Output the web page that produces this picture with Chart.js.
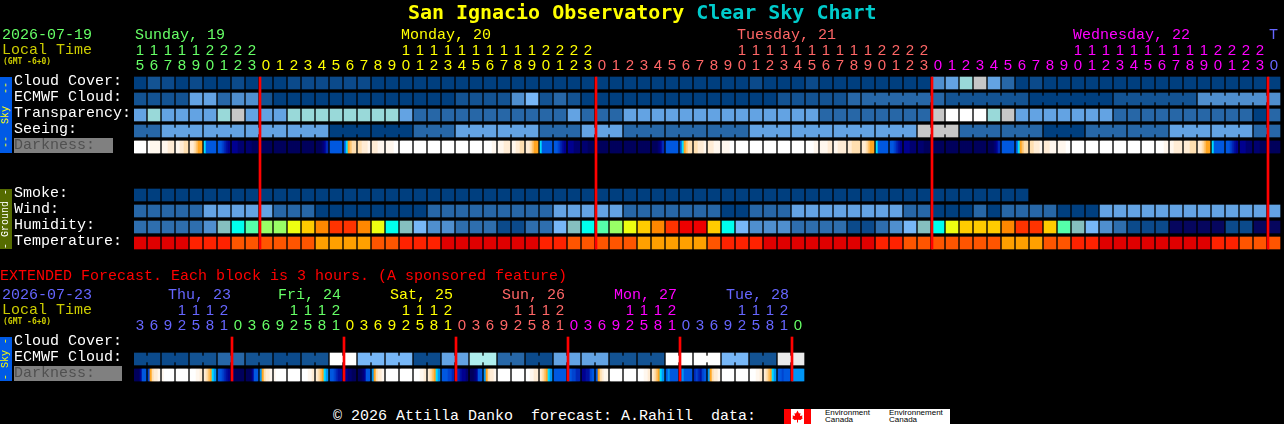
<!DOCTYPE html>
<html>
<head>
<meta charset="utf-8">
<script src="https://cdn.jsdelivr.net/npm/chart.js@4"></script>
<style>
html,body{margin:0;padding:0;background:#000;width:1284px;height:424px;overflow:hidden}
#page{position:relative;width:1284px;height:424px;overflow:hidden}
canvas{position:absolute;left:0;display:block}
.t{position:absolute;white-space:pre;font:15px/15px "Liberation Mono",monospace;color:#fff}
.box{position:absolute}
.side{position:absolute;white-space:pre;font:10px/12px "Liberation Mono",monospace;text-align:center;transform:rotate(-90deg);transform-origin:center}
</style>
</head>
<body>
<div id="page">
<div class="box" style="left:14px;top:138px;width:99px;height:15px;background:#808080"></div>
<div class="box" style="left:14px;top:366px;width:108px;height:15px;background:#808080"></div>
<canvas id="main"></canvas>
<canvas id="ext"></canvas>

<div class="t" style="left:408px;top:1px;font:bold 20px/22px 'DejaVu Sans Mono',monospace;letter-spacing:-0.03px;color:#ffff00">San Ignacio Observatory<span style="color:#00cccc"> Clear Sky Chart</span></div>

<div class="t" style="left:2px;top:28px;color:#66ff66">2026-07-19</div>
<div class="t" style="left:2px;top:43px;color:#cccc00">Local Time</div>
<div class="t" style="left:3px;top:58px;color:#cccc00;font:bold 8px/8px 'DejaVu Sans Mono',monospace">(GMT -6+0)</div>
<div class="t" style="left:135px;top:28px;color:#66ff66">Sunday, 19</div>
<div class="t" style="left:401px;top:28px;color:#ffff00">Monday, 20</div>
<div class="t" style="left:737px;top:28px;color:#ff6666">Tuesday, 21</div>
<div class="t" style="left:1073px;top:28px;color:#ff00ff">Wednesday, 22</div>
<div class="t" style="left:1269px;top:28px;color:#6666ff">T</div>

<div class="box" style="left:0;top:77px;width:12px;height:76px;background:#005ae6"></div>
<div class="side" style="left:-32px;top:109px;width:76px;height:12px;color:#ffff00">--  Sky  --</div>
<div class="box" style="left:0;top:189px;width:12px;height:60px;background:#556b00"></div>
<div class="side" style="left:-24px;top:213px;width:60px;height:12px;color:#ffffff">- Ground -</div>

<div class="t" style="left:0;top:269px;color:#ff0000">EXTENDED Forecast. Each block is 3 hours. (A sponsored feature)</div>
<div class="t" style="left:2px;top:288px;color:#6666ff">2026-07-23</div>
<div class="t" style="left:2px;top:303px;color:#cccc00">Local Time</div>
<div class="t" style="left:3px;top:318px;color:#cccc00;font:bold 8px/8px 'DejaVu Sans Mono',monospace">(GMT -6+0)</div>
<div class="t" style="left:168px;top:288px;color:#6666ff">Thu, 23</div>
<div class="t" style="left:278px;top:288px;color:#66ff66">Fri, 24</div>
<div class="t" style="left:390px;top:288px;color:#ffff00">Sat, 25</div>
<div class="t" style="left:502px;top:288px;color:#ff6666">Sun, 26</div>
<div class="t" style="left:614px;top:288px;color:#ff00ff">Mon, 27</div>
<div class="t" style="left:726px;top:288px;color:#6666ff">Tue, 28</div>

<div class="box" style="left:0;top:337px;width:12px;height:44px;background:#005ae6"></div>
<div class="side" style="left:-16px;top:353px;width:44px;height:12px;color:#ffff00">- Sky -</div>

<div class="t" style="left:333px;top:409px;color:#ffffff">© 2026 Attilla Danko  forecast: A.Rahill  data:</div>
<div class="box" style="left:784px;top:409px;width:166px;height:15px;background:#fff;overflow:hidden">
  <div class="box" style="left:0;top:0;width:7px;height:15px;background:#ff0000"></div>
  <div class="box" style="left:20px;top:0;width:7px;height:15px;background:#ff0000"></div>
  <svg class="box" style="left:7px;top:1px" width="13" height="13" viewBox="0 0 13 13"><path d="M6.5 0.5L8 3.5L9.5 3L9 6L11.5 5.5L11 7.5L12 8L9.5 10L7 9.8V12.5H6V9.8L3.5 10L1 8L2 7.5L1.5 5.5L4 6L3.5 3L5 3.5Z" fill="#ff0000"/></svg>
  <div class="t" style="left:41px;top:0;color:#000;font:8px/7px 'Liberation Sans',sans-serif">Environment
Canada</div>
  <div class="t" style="left:105px;top:0;color:#000;font:8px/7px 'Liberation Sans',sans-serif">Environnement
Canada</div>
</div>
</div>

<script>
/* ---------- colour levels ---------- */
const skyPalette = ['#003F7F','#0B4A8B','#135393','#2767A7','#3B7BBB','#4F8FCF','#63A3E3','#77B7F7','#99D9D9','#AEEEEE','#C7C7C7','#EAEAEA','#FFFFFF'];
const humidityPalette = ['#06065E','#0B4A8B','#2E6EAE','#4F8FCF','#77B7F7','#85BFBF','#00FFEE','#55FFAA','#99FF66','#EEFF11','#FFCC00','#FF8800','#FF3300','#EE0000'];
const temperaturePalette = ['#E00000','#FF2200','#FF5500','#FFA000'];
const darknessPalette = {'0':'#FFFFFF','1':'#FFF7EE','2':'#FFECD5','3':'#FFDFB0','4':'#FFC570','5':'#FFA520','6':'#00DDFF','7':'#0095F5','8':'#0058E0','9':'#0044D0','a':'#0028B8','b':'#0010A0','c':'#000090','d':'#000070','e':'#00005C','f':'#000050'};
const dayColors = ['#66FF66','#FFFF00','#FF6666','#FF00FF','#6666FF'];
const extDayColors = ['#6666FF','#66FF66','#FFFF00','#FF6666','#FF00FF','#6666FF','#66FF66'];
const redLine = '#FF0000';

/* ---------- main forecast ---------- */
const rowLabels = ['Cloud Cover:','ECMWF Cloud:','Transparency:','Seeing:','Darkness:','','','Smoke:','Wind:','Humidity:','Temperature:'];
const hours = [15,16,17,18,19,20,21,22,23,
 0,1,2,3,4,5,6,7,8,9,10,11,12,13,14,15,16,17,18,19,20,21,22,23,
 0,1,2,3,4,5,6,7,8,9,10,11,12,13,14,15,16,17,18,19,20,21,22,23,
 0,1,2,3,4,5,6,7,8,9,10,11,12,13,14,15,16,17,18,19,20,21,22,23,
 0];
const midnights = [9,33,57,81];
const cloudCover = [0,2,1,0,1,0,0,1,0,0, 0,1,1,1,1,1,1,0,0,0, 0,0,0,0,0,0,0,0,0,0, 0,0,0,0,0,0,0,0,0,0, 0,0,0,0,1,0,0,0,1,0, 0,0,0,0,0,0,0,5,6,8, 10,6,3,0,1,0,0,0,0,0, 0,0,0,0,0,0,0,0,0,0,0,0];
const ecmwfCloud = [2,2,2,2,6,6,3,5,5,2, 0,0,0,0,0,0,0,0,0,0, 0,0,0,2,2,2,2,5,7,2, 3,2,0,0,0,0,0,0,0,0, 0,0,0,0,0,0,2,2,2,2, 2,3,3,3,3,3,3,3,2,2, 2,2,2,2,0,0,0,0,0,0, 2,2,2,2,2,2,5,5,5,5,5,5];
const ecmwfGroups = [52,58,64,70,76];
const transparency = [6,8,6,6,6,6,8,10,6,6, 6,8,8,8,8,8,8,8,8,6, 3,3,3,3,3,3,3,3,3,3, 3,6,3,3,3,6,6,6,6,6, 6,6,6,6,6,6,6,6,6,3, 3,3,3,3,3,3,3,10,12,12, 12,8,10,6,6,6,6,6,6,6, 3,3,3,3,3,3,3,3,3,3,0,3];
const seeing = [3,3, 6,6,6,6,6,6,6,6,6,6,6,6, 0,0,0,0,0,0, 3,3,3, 6,6,6,6,6,6, 3,3,3, 6,6,6, 3,3,3,3,3,3,3,3,3, 6,6,6,6,6,6,6,6,6,6,6,6, 10,10,10, 3,3,3,3,3,3, 0,0,0, 3,3,3,3,3,3, 6,6,6,6,6,6, 3,3];
const seeingGroups = [0,2,5,8,11,14,17,20,23,26,29,32,35,38,41,44,47,50,53,56,59,62,65,68,71,74,77,80];
const darkness = ['000000','011111','111222','112233','223455','688888','889abc','cccddd','dddeee',
 'eeeeee','eeeeee','eeeeee','eeeeee','eeedca','888888','865433','332221','222111','111100','000000','000000','000000','000000','000000','000000',
 '000011','111222','112233','223455','688888','889abc','cccddd','dddeee',
 'eeeeee','eeeeee','eeeeee','eeeeee','eeedca','888888','865433','332221','222111','111100','000000','000000','000000','000000','000000',
 '000011','111122','112222','223333','223455','688888','889abc','cccddd','dddeee',
 'eeeeee','eeeeee','eeeeee','eeeeee','eeedca','888888','865433','332221','222111','111100','000000','000000','000000','000000','000000','000000',
 '000011','112222','222333','223455','688888','889abc','cccddd','dddeee','eeeeee'];
const smoke = [0,0,0,0,0,0,0,0,0,0, 0,0,0,0,0,0,0,0,0,0, 0,0,0,0,0,0,0,0,0,0, 0,0,0,0,0,0,0,0,0,0, 0,0,0,0,0,0,0,0,0,0, 0,0,0,0,0,0,0,0,0,0, 0,0,0,0];
const wind = [3,3,3,3,3,6,6,6,6,6, 3,3,3,0,0,0,0,0,0,0, 0,3,3,3,3,3,3,3,3,3, 6,6,6,6,6,3,3,3,3,3, 3,3,0,0,3,3,3,6,6,6, 6,6,6,6,6,3,3,0,0,0, 3,0,3,3,3,3,0,0,0,6, 6,6,6,6,6,6,6,6,6,6,6,6];
const humidity = [2,2,2,2,2,3,5,6,7,8, 8,9,10,11,12,12,11,9,6,5, 4,3,3,2,2,2,1,1,2,2, 4,5,6,7,8,9,10,11,12,13, 13,10,6,4,3,3,3,2,2,2, 2,1,1,2,3,4,5,6,9,10, 10,10,11,12,12,10,7,5,4,3, 2,1,1,1,0,0,0,0,1,1,0,0];
const temperature = [0,0,0,0,1,1,1,2,2,2, 2,2,2,3,3,3,3,2,2,1, 1,1,0,0,0,0,0,0,0,1, 1,2,2,2,2,2,3,3,3,3, 3,2,1,1,1,0,0,0,0,0, 0,0,0,1,1,2,2,2,2,2, 2,2,3,3,3,2,2,1,1,0, 0,0,0,0,0,0,0,1,1,2,2,2];

/* ---------- extended forecast ---------- */
const extRowLabels = ['Cloud Cover:','ECMWF Cloud:','Darkness:'];
const extHours = [3,6,9,12,15,18,21,0, 3,6,9,12,15,18,21,0, 3,6,9,12,15,18,21,0, 3,6,9,12,15,18,21,0, 3,6,9,12,15,18,21,0, 3,6,9,12,15,18,21,0];
const extMidnights = [7,15,23,31,39,47];
const extEcmwf = [1,1,1,1,2,2,3,3, 2,2,1,1,2,2,12,12, 7,7,7,7,1,1,6,6, 9,9,3,3,1,1,6,6, 6,6,2,2,2,2,12,12, 12,12,7,7,2,2,11,11];
const extEcmwfGroups = [0,2,4,6,8,10,12,14,16,18,20,22,24,26,28,30,32,34,36,38,40,42,44,46];
const extDarkness = ['eeec88','953221','100000','000000','000112','234567','889abc','deeeee',
 'eeec88','753221','100000','000000','000112','234567','889abb','ccddee',
 'eedc88','753221','000000','000000','000112','234567','88899a','aabccd',
 'eedc88','753221','000000','000000','001122','234567','888888','8899aa',
 'ccbb98','853211','000000','000000','000112','234567','878888','878888',
 'a9ab98','753221','000000','000000','000112','234567','889888','777777'];

/* ---------- chart construction ---------- */
const BLOCK = 12, PITCH = 14, ROW = 16, BLOCK_HEIGHT = 12;
const blockCentre = (BLOCK / 2) / PITCH;              // a block starts on its hour
const inset = ((ROW - BLOCK_HEIGHT) / 2) / ROW;
const rowBand = r => [r + inset, r + 1 - inset];
const joinBand = r => [r + inset + 3 / ROW, r + 1 - inset - 3 / ROW];

function blocks(values, row, palette) {
  return {
    data: values.map((v, i) => ({x: i + blockCentre, y: rowBand(row)})),
    backgroundColor: values.map(v => palette[v]),
    barThickness: BLOCK, grouped: false, borderWidth: 0
  };
}
function joins(values, groups, row, palette) {
  const pts = [], cols = [];
  for (let i = 0; i < values.length - 1; i++) {
    const g = groups.filter(s => s <= i).pop();
    if (g === undefined || groups.includes(i + 1)) continue;
    pts.push({x: i + (BLOCK + 1) / PITCH, y: joinBand(row)});
    cols.push(palette[values[i]]);
  }
  return {data: pts, backgroundColor: cols, barThickness: 2, grouped: false, borderWidth: 0};
}
function shaded(strings, row) {
  const pts = [], cols = [];
  strings.forEach((s, i) => [...s].forEach((c, j) => {
    pts.push({x: i + (2 * j + 1) / PITCH, y: rowBand(row)});
    cols.push(darknessPalette[c]);
  }));
  return {data: pts, backgroundColor: cols, barThickness: 2, grouped: false, borderWidth: 0};
}
function redLines(cols, rows) {
  return {
    data: cols.map(c => ({x: c, y: [inset, rows - inset]})),
    backgroundColor: redLine, barThickness: 2, grouped: false, borderWidth: 0
  };
}
function dayIndexes(hs) {
  let d = 0;
  return hs.map(h => { if (h === 0) d++; return d; });
}
function tickLabel(h) {
  const s = String(h);
  return s.length > 1 ? [s[0], s[1]] : ['', s];
}
function build(id, top, height, axisHeight, hs, cols, labels, colors, datasets, rows) {
  const canvas = document.getElementById(id);
  canvas.style.top = top + 'px';
  const days = dayIndexes(hs);
  return new Chart(canvas, {
    type: 'bar',
    data: {datasets},
    options: {
      responsive: false, animation: false, devicePixelRatio: 1,
      layout: {padding: {left: 14, right: 1284 - 134 - cols * PITCH, top: 0, bottom: height - axisHeight - rows * ROW}},
      plugins: {legend: {display: false}, tooltip: {enabled: false}, title: {display: false}},
      scales: {
        x: {
          type: 'linear', position: 'top', min: 0, max: cols, offset: false,
          grid: {display: false, drawTicks: false, offset: false}, border: {display: false},
          afterBuildTicks: s => { s.ticks = hs.map((h, i) => ({value: i + blockCentre})); },
          afterFit: s => { s.height = axisHeight; },
          ticks: {
            autoSkip: false, maxRotation: 0, minRotation: 0, padding: 2,
            font: {family: '"Liberation Sans",sans-serif', size: 15, lineHeight: 1},
            color: c => colors[days[c.index]],
            callback: (v, i) => tickLabel(hs[i])
          }
        },
        y: {
          type: 'linear', reverse: true, min: 0, max: rows,
          grid: {display: false, drawTicks: false}, border: {display: false},
          afterBuildTicks: s => { s.ticks = labels.map((l, i) => ({value: i + 0.35})); },
          afterFit: s => { s.width = 120; },
          ticks: {
            autoSkip: false, crossAlign: 'far', padding: 0,
            font: {family: '"Liberation Mono",monospace', size: 15},
            color: c => labels[c.index] === 'Darkness:' ? '#505050' : '#FFFFFF',
            callback: (v, i) => labels[i]
          }
        }
      }
    }
  });
}

const mainCanvas = document.getElementById('main');
mainCanvas.width = 1284; mainCanvas.height = 265;
build('main', 0, 265, 75, hours, 82, rowLabels, dayColors, [
  redLines(midnights, 11),
  blocks(cloudCover, 0, skyPalette),
  blocks(ecmwfCloud, 1, skyPalette),
  joins(ecmwfCloud, ecmwfGroups, 1, skyPalette),
  blocks(transparency, 2, skyPalette),
  blocks(seeing, 3, skyPalette),
  joins(seeing, seeingGroups, 3, skyPalette),
  shaded(darkness, 4),
  blocks(smoke, 7, skyPalette),
  blocks(wind, 8, skyPalette),
  blocks(humidity, 9, humidityPalette),
  blocks(temperature, 10, temperaturePalette)
], 11);

const extCanvas = document.getElementById('ext');
extCanvas.width = 1284; extCanvas.height = 120;
build('ext', 280, 120, 55, extHours, 48, extRowLabels, extDayColors, [
  redLines(extMidnights, 3),
  blocks(extEcmwf, 1, skyPalette),
  joins(extEcmwf, extEcmwfGroups, 1, skyPalette),
  shaded(extDarkness, 2)
], 3);
</script>
</body>
</html>
